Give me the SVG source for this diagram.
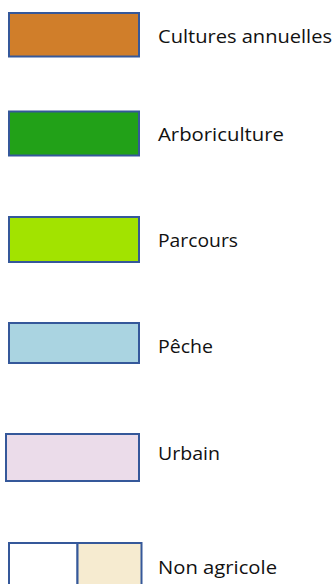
<svg xmlns="http://www.w3.org/2000/svg" width="336" height="584" viewBox="0 0 336 584">
<style>
.box{stroke:#35589A;stroke-width:2}
.lbl{font-family:"Open Sans","Liberation Sans",sans-serif;font-size:19px;fill:#111}
</style>
<rect width="336" height="584" fill="#fff"/>
<g id="cultures">
<rect class="box" x="9" y="13" width="130" height="43.5" fill="#D07E2A"/>
<text class="lbl" x="158" y="42.7" textLength="174" lengthAdjust="spacingAndGlyphs">Cultures annuelles</text>
</g>
<g id="arboriculture">
<rect class="box" x="9" y="111.5" width="130" height="44" fill="#22A118"/>
<text class="lbl" x="158" y="140.7" textLength="126" lengthAdjust="spacingAndGlyphs">Arboriculture</text>
</g>
<g id="parcours">
<rect class="box" x="9" y="217" width="130" height="45" fill="#A2E300"/>
<text class="lbl" x="158" y="246.7" textLength="80" lengthAdjust="spacingAndGlyphs">Parcours</text>
</g>
<g id="peche">
<rect class="box" x="9" y="323" width="130" height="40" fill="#AAD4E1"/>
<text class="lbl" x="158" y="352.7" textLength="55" lengthAdjust="spacingAndGlyphs">Pêche</text>
</g>
<g id="urbain">
<rect class="box" x="6" y="434" width="133" height="47" fill="#EBDCEA"/>
<text class="lbl" x="158" y="460" textLength="62" lengthAdjust="spacingAndGlyphs">Urbain</text>
</g>
<g id="non-agricole">
<rect class="box" x="9" y="543" width="68.5" height="50" fill="#FFFFFF"/>
<rect class="box" x="77.5" y="543" width="64" height="50" fill="#F6EBD0"/>
<text class="lbl" x="158" y="574" textLength="119" lengthAdjust="spacingAndGlyphs">Non agricole</text>
</g>
<g id="connectors"/>
</svg>
